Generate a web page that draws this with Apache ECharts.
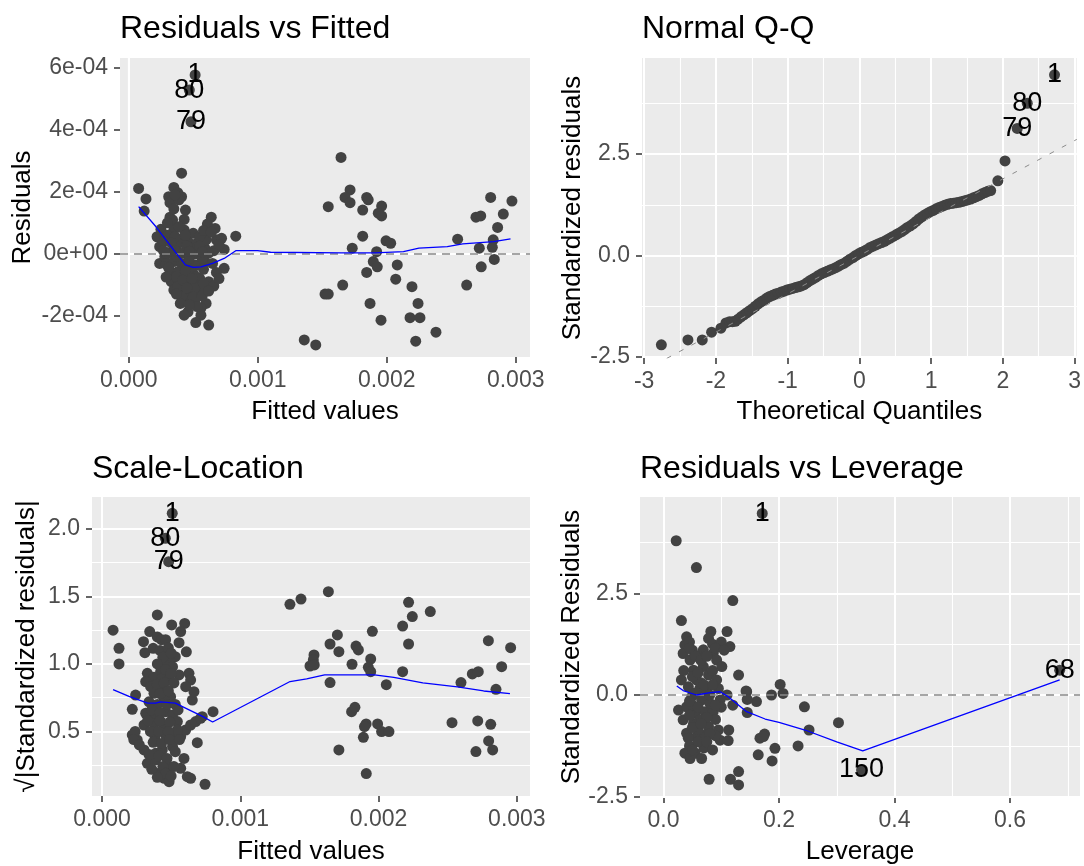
<!DOCTYPE html>
<html>
<head>
<meta charset="utf-8">
<title>Regression diagnostics</title>
<script src="https://cdn.jsdelivr.net/npm/echarts@6.0.0/dist/echarts.min.js"></script>
<style>
  html, body { margin: 0; padding: 0; background: #ffffff; }
  #diag-plots { width: 1084px; height: 866px; }
</style>
</head>
<body>
<div id="diag-plots"></div>
<script>
// ---------- Residuals vs Fitted ----------
const rvfPoints = [
  [0.41e-3, 2.60e-4], [0.077e-3, 2.11e-4], [0.134e-3, 1.77e-4], [0.12e-3, 1.38e-4], [0.35e-3, 2.14e-4],
  [0.38e-3, 1.97e-4], [0.41e-3, 1.84e-4], [0.31e-3, 1.84e-4], [0.32e-3, 1.65e-4], [0.39e-3, 1.74e-4],
  [0.44e-3, 1.41e-4], [0.32e-3, 1.18e-4], [0.34e-3, 1.09e-4], [0.43e-3, 1.11e-4], [0.64e-3, 1.18e-4],
  [0.61e-3, 0.96e-4], [0.67e-3, 0.82e-4], [0.25e-3, 0.79e-4], [0.22e-3, 0.55e-4], [0.50e-3, 0.66e-4],
  [0.83e-3, 0.57e-4], [0.68e-3, 0.45e-4], [0.72e-3, 0.50e-4], [0.42e-3, 0.50e-4], [0.46e-3, 0.39e-4],
  [0.53e-3, 0.34e-4], [0.24e-3, 0.23e-4], [0.37e-3, 0.23e-4], [0.59e-3, 0.18e-4], [0.74e-3, 0.14e-4],
  [0.66e-3, 0.10e-4], [0.32e-3, 0.04e-4], [0.42e-3, 0.02e-4], [0.52e-3, 0.00e-4], [0.62e-3, 0.02e-4],
  [0.24e-3, -0.31e-4], [0.29e-3, -0.33e-4], [0.35e-3, -0.25e-4], [0.41e-3, -0.31e-4], [0.46e-3, -0.42e-4],
  [0.52e-3, -0.36e-4], [0.59e-3, -0.25e-4], [0.65e-3, -0.31e-4], [0.74e-3, -0.47e-4], [0.33e-3, -0.63e-4],
  [0.38e-3, -0.58e-4], [0.43e-3, -0.74e-4], [0.50e-3, -0.63e-4], [0.55e-3, -0.79e-4], [0.33e-3, -0.90e-4],
  [0.39e-3, -0.95e-4], [0.46e-3, -1.00e-4], [0.53e-3, -0.95e-4], [0.62e-3, -0.90e-4], [0.66e-3, -1.04e-4],
  [0.35e-3, -1.17e-4], [0.42e-3, -1.22e-4], [0.48e-3, -1.28e-4], [0.55e-3, -1.17e-4], [0.44e-3, -1.44e-4],
  [0.48e-3, -1.54e-4], [0.52e-3, -1.44e-4], [0.60e-3, -1.60e-4], [0.56e-3, -1.76e-4], [0.46e-3, -1.87e-4],
  [0.43e-3, -1.98e-4], [0.56e-3, -1.98e-4], [0.52e-3, -2.22e-4], [0.62e-3, -2.30e-4], [0.37e-3, -0.09e-4],
  [0.47e-3, -0.15e-4], [0.57e-3, -0.15e-4], [0.28e-3, -0.09e-4], [0.38e-3, 0.34e-4], [0.48e-3, 0.18e-4],
  [0.60e-3, 0.45e-4], [0.52e-3, -0.74e-4], [0.37e-3, -0.74e-4], [0.41e-3, -1.38e-4], [0.38e-3, -1.06e-4],
  [0.51e-3, -1.11e-4], [0.29e-3, 0.01e-4], [0.43e-3, 0.77e-4], [0.35e-3, 0.77e-4], [0.39e-3, 0.87e-4],
  [0.30e-3, 0.60e-4], [0.36e-3, 0.55e-4], [0.44e-3, 0.60e-4], [0.55e-3, 0.55e-4], [0.58e-3, 0.75e-4],
  [0.27e-3, 0.40e-4], [0.33e-3, 0.35e-4], [0.45e-3, 0.25e-4], [0.55e-3, 0.25e-4], [0.27e-3, 0.10e-4],
  [0.36e-3, 0.10e-4], [0.47e-3, 0.08e-4], [0.57e-3, 0.06e-4], [0.70e-3, 0.30e-4], [0.31e-3, -0.45e-4],
  [0.44e-3, -0.55e-4], [0.58e-3, -0.50e-4], [0.68e-3, -0.60e-4], [0.29e-3, -0.75e-4], [0.42e-3, -0.85e-4],
  [0.49e-3, -0.80e-4], [0.58e-3, -0.95e-4], [0.70e-3, -0.80e-4], [0.37e-3, -1.30e-4], [0.45e-3, -1.10e-4],
  [0.50e-3, -1.40e-4], [0.57e-3, -1.35e-4], [0.62e-3, -1.20e-4], [0.40e-3, -1.60e-4], [0.53e-3, -1.70e-4],
  [0.47e-3, -1.65e-4], [0.35e-3, 1.45e-4], [0.36e-3, 1.90e-4], [0.30e-3, 1.00e-4], [0.64e-3, 0.70e-4],
  [1.646e-3, 3.11e-4], [1.716e-3, 2.06e-4], [1.677e-3, 1.82e-4], [1.716e-3, 1.65e-4], [1.547e-3, 1.52e-4],
  [1.845e-3, 1.82e-4], [1.857e-3, 1.74e-4], [1.814e-3, 1.41e-4], [1.961e-3, 1.54e-4], [1.935e-3, 1.31e-4],
  [1.961e-3, 1.22e-4], [1.814e-3, 0.57e-4], [1.995e-3, 0.42e-4], [2.031e-3, 0.34e-4], [1.733e-3, 0.18e-4],
  [1.922e-3, 0.07e-4], [1.896e-3, -0.25e-4], [1.927e-3, -0.42e-4], [1.845e-3, -0.60e-4], [2.082e-3, -0.36e-4],
  [2.070e-3, -0.82e-4], [1.659e-3, -1.01e-4], [1.522e-3, -1.30e-4], [1.547e-3, -1.30e-4], [2.196e-3, -1.06e-4],
  [1.871e-3, -1.60e-4], [2.243e-3, -1.60e-4], [1.956e-3, -2.14e-4], [2.181e-3, -2.06e-4], [2.258e-3, -2.06e-4],
  [2.382e-3, -2.53e-4], [2.225e-3, -2.82e-4], [1.361e-3, -2.78e-4], [1.450e-3, -2.94e-4], [2.806e-3, 1.82e-4],
  [2.971e-3, 1.70e-4], [2.692e-3, 1.18e-4], [2.729e-3, 1.22e-4], [2.904e-3, 1.28e-4], [2.860e-3, 0.85e-4],
  [2.550e-3, 0.47e-4], [2.826e-3, 0.45e-4], [2.718e-3, 0.18e-4], [2.819e-3, 0.21e-4], [2.834e-3, -0.18e-4],
  [2.733e-3, -0.42e-4], [2.620e-3, -1.01e-4]
];
const rvfSmoothX = [0.077e-3, 0.21e-3, 0.29e-3, 0.38e-3, 0.44e-3, 0.50e-3, 0.56e-3, 0.65e-3, 0.74e-3, 0.83e-3,
  1.00e-3, 1.10e-3, 1.65e-3, 1.91e-3, 2.13e-3, 2.25e-3, 2.47e-3, 2.59e-3, 2.83e-3, 2.96e-3];
const rvfSmoothY = [1.52e-4, 0.88e-4, 0.44e-4, -0.04e-4, -0.36e-4, -0.44e-4, -0.42e-4, -0.31e-4, -0.15e-4, 0.10e-4,
  0.10e-4, 0.05e-4, 0.03e-4, 0.03e-4, 0.07e-4, 0.18e-4, 0.23e-4, 0.32e-4, 0.39e-4, 0.48e-4];
const rvfLabelX = [0.515e-3, 0.47e-3, 0.483e-3];
const rvfLabelY = [5.77e-4, 5.28e-4, 4.26e-4];
const rvfLabelText = ['1', '80', '79'];
const rvfXTicks = [0, 1e-3, 2e-3, 3e-3];
const rvfXLabels = ['0.000', '0.001', '0.002', '0.003'];
const rvfXMinor = [0.5e-3, 1.5e-3, 2.5e-3];
const rvfYTicks = [-2e-4, 0, 2e-4, 4e-4, 6e-4];
const rvfYLabels = ['-2e-04', '0e+00', '2e-04', '4e-04', '6e-04'];
const rvfYMinor = [-3e-4, -1e-4, 1e-4, 3e-4, 5e-4];

// ---------- Normal Q-Q ----------
const qqTheoretical = [-2.76, -2.39, -2.19, -2.06, -1.93, -1.86, -1.81, -1.77, -1.73, -1.69, -1.65, -1.61, -1.57,
  -1.53, -1.49, -1.45, -1.41, -1.37, -1.33, -1.29, -1.25, -1.21, -1.17, -1.13, -1.09, -1.05, -1.01, -0.97, -0.93,
  -0.89, -0.85, -0.81, -0.77, -0.73, -0.69, -0.65, -0.61, -0.57, -0.53, -0.49, -0.45, -0.41, -0.37, -0.33, -0.29,
  -0.25, -0.21, -0.17, -0.13, -0.09, -0.05, -0.01, 0.03, 0.07, 0.11, 0.15, 0.19, 0.23, 0.27, 0.31, 0.35, 0.39,
  0.43, 0.47, 0.51, 0.55, 0.59, 0.63, 0.67, 0.71, 0.75, 0.79, 0.83, 0.87, 0.91, 0.95, 0.99, 1.03, 1.07, 1.11,
  1.15, 1.19, 1.23, 1.27, 1.31, 1.35, 1.39, 1.43, 1.47, 1.51, 1.55, 1.59, 1.63, 1.67, 1.71, 1.75, 1.79, 1.83,
  1.93, 2.03];
const qqStdResid = [-2.20, -2.08, -2.08, -1.89, -1.79, -1.66, -1.63, -1.63, -1.62, -1.57, -1.51, -1.46, -1.41,
  -1.36, -1.31, -1.25, -1.19, -1.14, -1.10, -1.05, -1.01, -0.98, -0.95, -0.93, -0.90, -0.88, -0.85, -0.83, -0.81,
  -0.79, -0.77, -0.75, -0.72, -0.67, -0.62, -0.58, -0.54, -0.49, -0.45, -0.42, -0.39, -0.36, -0.33, -0.30, -0.26,
  -0.22, -0.19, -0.14, -0.09, -0.05, 0.00, 0.04, 0.08, 0.11, 0.15, 0.20, 0.23, 0.26, 0.29, 0.32, 0.35, 0.39,
  0.43, 0.47, 0.51, 0.55, 0.59, 0.64, 0.69, 0.73, 0.78, 0.84, 0.90, 0.95, 1.00, 1.04, 1.08, 1.11, 1.15, 1.18,
  1.21, 1.24, 1.26, 1.28, 1.29, 1.30, 1.31, 1.33, 1.35, 1.37, 1.39, 1.42, 1.45, 1.48, 1.52, 1.55, 1.58, 1.60,
  1.84, 2.33];
const qqLineX = [-3.03, 3.03];
const qqLineY = [-2.86, 2.86];
const qqLabelX = [2.72, 2.34, 2.20];
const qqLabelY = [4.45, 3.75, 3.13];
const qqLabelText = ['1', '80', '79'];
const qqXTicks = [-3, -2, -1, 0, 1, 2, 3];
const qqXLabels = ['-3', '-2', '-1', '0', '1', '2', '3'];
const qqXMinor = [-2.5, -1.5, -0.5, 0.5, 1.5, 2.5];
const stdYTicks = [-2.5, 0, 2.5];
const stdYLabels = ['-2.5', '0.0', '2.5'];
const stdYMinor = [-1.25, 1.25, 3.75];

// ---------- Scale-Location ----------
const slPoints = [
  [0.40e-3, 1.363], [0.08e-3, 1.25], [0.123e-3, 1.116], [0.123e-3, 1.0], [0.504e-3, 1.289], [0.598e-3, 1.30],
  [0.569e-3, 1.24], [0.345e-3, 1.24], [0.40e-3, 1.20], [0.30e-3, 1.165], [0.43e-3, 1.18], [0.46e-3, 1.18],
  [0.557e-3, 1.158], [0.31e-3, 1.084], [0.37e-3, 1.116], [0.61e-3, 1.09], [0.47e-3, 1.067], [0.53e-3, 1.054],
  [0.485e-3, 1.03], [0.45e-3, 0.993], [0.51e-3, 0.98], [0.424e-3, 0.943], [0.472e-3, 0.931], [0.328e-3, 0.931],
  [0.557e-3, 0.919], [0.629e-3, 0.931], [0.376e-3, 0.901], [0.436e-3, 0.894], [0.641e-3, 0.881], [0.316e-3, 0.869],
  [0.485e-3, 0.881], [0.605e-3, 0.832], [0.352e-3, 0.832], [0.424e-3, 0.82], [0.665e-3, 0.795], [0.496e-3, 0.758],
  [0.376e-3, 0.783], [0.243e-3, 0.77], [0.653e-3, 0.733], [0.45e-3, 0.733], [0.219e-3, 0.664], [0.316e-3, 0.635],
  [0.376e-3, 0.622], [0.46e-3, 0.647], [0.51e-3, 0.622], [0.803e-3, 0.647], [0.725e-3, 0.61], [0.304e-3, 0.548],
  [0.376e-3, 0.56], [0.45e-3, 0.536], [0.545e-3, 0.573], [0.569e-3, 0.462], [0.605e-3, 0.511], [0.641e-3, 0.548],
  [0.677e-3, 0.573], [0.713e-3, 0.598], [0.219e-3, 0.474], [0.255e-3, 0.437], [0.304e-3, 0.363], [0.383e-3, 0.462],
  [0.46e-3, 0.474], [0.52e-3, 0.449], [0.545e-3, 0.511], [0.689e-3, 0.417], [0.388e-3, 0.338], [0.436e-3, 0.363],
  [0.51e-3, 0.388], [0.328e-3, 0.264], [0.388e-3, 0.289], [0.485e-3, 0.24], [0.593e-3, 0.30], [0.569e-3, 0.227],
  [0.412e-3, 0.19], [0.45e-3, 0.153], [0.485e-3, 0.128], [0.617e-3, 0.165], [0.641e-3, 0.153], [0.745e-3, 0.109],
  [0.42e-3, 1.10], [0.44e-3, 1.05], [0.48e-3, 1.12], [0.50e-3, 1.08], [0.40e-3, 1.00], [0.46e-3, 0.96],
  [0.50e-3, 0.93], [0.40e-3, 0.85], [0.45e-3, 0.86], [0.52e-3, 0.86], [0.42e-3, 0.78], [0.48e-3, 0.80],
  [0.34e-3, 0.72], [0.40e-3, 0.70], [0.47e-3, 0.70], [0.53e-3, 0.70], [0.36e-3, 0.66], [0.42e-3, 0.64],
  [0.55e-3, 0.66], [0.33e-3, 0.58], [0.42e-3, 0.58], [0.49e-3, 0.57], [0.35e-3, 0.50], [0.41e-3, 0.50],
  [0.48e-3, 0.50], [0.37e-3, 0.42], [0.43e-3, 0.41], [0.49e-3, 0.44], [0.56e-3, 0.44], [0.34e-3, 0.33],
  [0.41e-3, 0.32], [0.47e-3, 0.30], [0.53e-3, 0.35], [0.36e-3, 0.22], [0.44e-3, 0.24], [0.52e-3, 0.24],
  [0.46e-3, 0.19], [0.40e-3, 0.16], [0.50e-3, 0.17], [0.24e-3, 0.50], [0.23e-3, 0.44], [0.27e-3, 0.40],
  [1.359e-3, 1.442], [1.439e-3, 1.481], [1.637e-3, 1.536], [2.217e-3, 1.457], [2.244e-3, 1.351], [2.374e-3, 1.388],
  [2.174e-3, 1.281], [1.955e-3, 1.242], [1.702e-3, 1.215], [1.649e-3, 1.148], [1.713e-3, 1.091], [1.837e-3, 1.133],
  [1.854e-3, 1.104], [2.217e-3, 1.148], [2.794e-3, 1.173], [2.955e-3, 1.121], [1.533e-3, 1.067], [1.528e-3, 1.03],
  [1.504e-3, 0.985], [1.535e-3, 0.993], [1.808e-3, 0.998], [1.943e-3, 1.037], [1.926e-3, 0.975], [1.943e-3, 0.943],
  [2.174e-3, 0.943], [2.890e-3, 0.98], [2.678e-3, 0.926], [2.721e-3, 0.943], [2.596e-3, 0.862], [2.849e-3, 0.812],
  [1.649e-3, 0.862], [2.056e-3, 0.847], [1.805e-3, 0.647], [1.829e-3, 0.679], [1.910e-3, 0.556], [1.898e-3, 0.536],
  [1.993e-3, 0.556], [2.022e-3, 0.499], [2.075e-3, 0.499], [1.890e-3, 0.457], [1.713e-3, 0.363], [1.911e-3, 0.188],
  [2.531e-3, 0.565], [2.717e-3, 0.578], [2.811e-3, 0.553], [2.796e-3, 0.430], [2.704e-3, 0.351], [2.825e-3, 0.363]
];
const slSmoothX = [0.08e-3, 0.195e-3, 0.33e-3, 0.39e-3, 0.42e-3, 0.53e-3, 0.63e-3, 0.73e-3, 0.80e-3, 1.36e-3,
  1.48e-3, 1.61e-3, 1.97e-3, 2.11e-3, 2.32e-3, 2.57e-3, 2.76e-3, 2.95e-3];
const slSmoothY = [0.81, 0.76, 0.71, 0.71, 0.72, 0.71, 0.66, 0.61, 0.57, 0.87, 0.89, 0.92, 0.92, 0.90, 0.86,
  0.83, 0.80, 0.78];
const slLabelX = [0.508e-3, 0.458e-3, 0.482e-3];
const slLabelY = [2.116, 1.931, 1.758];
const slLabelText = ['1', '80', '79'];
const slYTicks = [0.5, 1.0, 1.5, 2.0];
const slYLabels = ['0.5', '1.0', '1.5', '2.0'];
const slYMinor = [0.25, 0.75, 1.25, 1.75];

// ---------- Residuals vs Leverage ----------
const rvlPoints = [
  [0.022, 3.79], [0.057, 3.13], [0.12, 2.32], [0.031, 1.83], [0.082, 1.56], [0.11, 1.56], [0.04, 1.43],
  [0.115, 1.19], [0.037, 1.23], [0.034, 1.02], [0.046, 0.86], [0.078, 1.39], [0.069, 1.11], [0.086, 1.02],
  [0.092, 0.86], [0.101, 0.70], [0.13, 0.49], [0.052, 0.61], [0.069, 0.70], [0.078, 0.49], [0.031, 0.37],
  [0.057, 0.37], [0.092, 0.37], [0.043, 0.20], [0.063, 0.16], [0.075, 0.08], [0.095, 0.16], [0.098, -0.12],
  [0.049, -0.04], [0.066, -0.12], [0.026, -0.37], [0.04, -0.29], [0.055, -0.45], [0.072, -0.41], [0.086, -0.41],
  [0.034, -0.61], [0.052, -0.70], [0.063, -0.61], [0.078, -0.78], [0.095, -0.86], [0.113, -0.86], [0.04, -0.94],
  [0.057, -1.02], [0.072, -0.98], [0.043, -1.06], [0.098, -1.11], [0.037, -1.43], [0.046, -1.56], [0.055, -1.43],
  [0.066, -1.56], [0.079, -2.07], [0.116, -2.07], [0.13, -1.88], [0.13, -2.21], [0.144, 0.08], [0.187, 0.0],
  [0.161, -0.16], [0.112, -1.12], [0.143, 0.10], [0.145, -0.11], [0.145, -0.43], [0.202, 0.26], [0.207, 0.04],
  [0.244, -0.29], [0.252, -0.86], [0.303, -0.68], [0.175, -0.96], [0.167, -1.06], [0.173, -1.02], [0.164, -1.47],
  [0.193, -1.31], [0.188, -1.62], [0.233, -1.25], [0.045, 1.30], [0.05, 1.10], [0.06, 0.95], [0.085, 1.25],
  [0.10, 1.30], [0.065, 0.30], [0.085, 0.60], [0.05, -0.25], [0.08, -0.20], [0.06, -0.85], [0.09, -0.60],
  [0.10, -0.30], [0.045, -1.25], [0.07, -1.30], [0.09, -1.00], [0.035, 0.60], [0.11, 0.00], [0.12, -0.25],
  [0.045, 1.15], [0.055, 0.95], [0.065, 0.85], [0.075, 0.95], [0.09, 1.15], [0.105, 1.10], [0.05, 0.45],
  [0.06, 0.55], [0.07, 0.25], [0.085, 0.25], [0.055, 0.05], [0.08, 0.00], [0.045, -0.15], [0.06, -0.30],
  [0.075, -0.55], [0.09, -0.25], [0.045, -0.50], [0.05, -0.80], [0.065, -0.70], [0.08, -0.95], [0.06, -1.15],
  [0.075, -1.15], [0.05, -1.35], [0.085, -1.35]
];
const rvlSmoothX = [0.023, 0.034, 0.057, 0.081, 0.098, 0.112, 0.144, 0.176, 0.20, 0.245, 0.30, 0.345, 0.686];
const rvlSmoothY = [0.22, 0.11, 0.00, 0.06, 0.08, -0.04, -0.41, -0.59, -0.67, -0.86, -1.15, -1.37, 0.37];
const rvlLabelX = [0.171, 0.343, 0.686];
const rvlLabelY = [4.46, -1.84, 0.61];
const rvlLabelText = ['1', '150', '68'];
const rvlXTicks = [0, 0.2, 0.4, 0.6];
const rvlXLabels = ['0.0', '0.2', '0.4', '0.6'];
const rvlXMinor = [0.1, 0.3, 0.5, 0.7];

// ---------- helpers ----------
const FONT = '"Liberation Sans", Arial, sans-serif';
const PANEL_BG = '#EBEBEB';
const POINT_COLOR = '#424242';

function zipXY(xs, ys) {
  return xs.map((x, i) => [x, ys[i]]);
}

function labelData(xs, ys, names) {
  return xs.map((x, i) => ({ value: [x, ys[i]], name: names[i] }));
}

function tickText(ticks, labels) {
  return function (v) {
    const i = ticks.findIndex(t => Math.abs(t - v) < 1e-12);
    return i < 0 ? '' : labels[i];
  };
}

function gridLines(majX, minX, majY, minY) {
  const data = [];
  minX.forEach(v => data.push({ xAxis: v, lineStyle: { width: 1.1 } }));
  minY.forEach(v => data.push({ yAxis: v, lineStyle: { width: 1.1 } }));
  majX.forEach(v => data.push({ xAxis: v, lineStyle: { width: 2 } }));
  majY.forEach(v => data.push({ yAxis: v, lineStyle: { width: 2 } }));
  return {
    silent: true, symbol: ['none', 'none'], z: 1, animation: false,
    label: { show: false },
    emphasis: { disabled: true },
    lineStyle: { color: '#FFFFFF', type: 'solid', opacity: 1 },
    data: data
  };
}

function zeroLine() {
  return {
    silent: true, symbol: ['none', 'none'], z: 4, animation: false,
    label: { show: false },
    emphasis: { disabled: true },
    lineStyle: { color: '#888888', type: [8, 6], width: 1.5, opacity: 1 },
    data: [{ yAxis: 0 }]
  };
}

function xAxisFor(gi, min, max, ticks, labels, name, gap) {
  return {
    type: 'value', gridIndex: gi, min: min, max: max,
    axisLine: { show: false, onZero: false },
    splitLine: { show: false },
    axisTick: { show: true, customValues: ticks, length: 6, lineStyle: { color: '#333333', width: 1.5 } },
    axisLabel: {
      customValues: ticks, formatter: tickText(ticks, labels), margin: 12,
      color: '#4D4D4D', fontSize: 23, lineHeight: 23, fontFamily: FONT
    },
    name: name, nameLocation: 'middle', nameGap: gap,
    nameTextStyle: { color: '#000000', fontSize: 26, lineHeight: 26, fontFamily: FONT }
  };
}

function yAxisFor(gi, min, max, ticks, labels, name, gap) {
  return {
    type: 'value', gridIndex: gi, min: min, max: max,
    axisLine: { show: false, onZero: false },
    splitLine: { show: false },
    axisTick: { show: true, customValues: ticks, length: 6, lineStyle: { color: '#333333', width: 1.5 } },
    axisLabel: {
      customValues: ticks, formatter: tickText(ticks, labels), margin: 12,
      color: '#4D4D4D', fontSize: 23, lineHeight: 23, fontFamily: FONT
    },
    name: name, nameLocation: 'middle', nameGap: gap,
    nameTextStyle: { color: '#000000', fontSize: 26, lineHeight: 26, fontFamily: FONT }
  };
}

function pointSeries(gi, data, marks) {
  return {
    type: 'scatter', xAxisIndex: gi, yAxisIndex: gi, data: data,
    symbol: 'circle', symbolSize: 11, z: 3,
    itemStyle: { color: POINT_COLOR, opacity: 1 },
    emphasis: { disabled: true },
    markLine: marks
  };
}

function labelSeries(gi, data) {
  return {
    type: 'scatter', xAxisIndex: gi, yAxisIndex: gi, data: data,
    symbol: 'circle', symbolSize: 11, z: 6,
    itemStyle: { color: POINT_COLOR, opacity: 1 },
    emphasis: { disabled: true },
    label: {
      show: true, position: 'inside', formatter: '{b}',
      color: '#000000', fontSize: 27, fontFamily: FONT
    }
  };
}

function smoothSeries(gi, data, marks) {
  const s = {
    type: 'line', xAxisIndex: gi, yAxisIndex: gi, data: data,
    showSymbol: false, symbol: 'none', z: 5,
    lineStyle: { color: '#0000FF', width: 1.3 },
    emphasis: { disabled: true }
  };
  if (marks) s.markLine = marks;
  return s;
}

function panelTitle(text, left, top) {
  return {
    text: text, left: left, top: top, padding: 0,
    textStyle: { color: '#000000', fontSize: 32, lineHeight: 32, fontWeight: 'normal', fontFamily: FONT }
  };
}

const chart = echarts.init(document.getElementById('diag-plots'), null, { renderer: 'canvas' });

chart.setOption({
  backgroundColor: '#FFFFFF',
  animation: false,
  title: [
    panelTitle('Residuals vs Fitted', 120, 13),
    panelTitle('Normal Q-Q', 642, 13),
    panelTitle('Scale-Location', 92, 453),
    panelTitle('Residuals vs Leverage', 640, 453)
  ],
  grid: [
    { left: 120, top: 58, width: 410, height: 299, show: true, backgroundColor: PANEL_BG, borderWidth: 0 },
    { left: 642, top: 58, width: 438, height: 300, show: true, backgroundColor: PANEL_BG, borderWidth: 0 },
    { left: 92, top: 497, width: 438, height: 299, show: true, backgroundColor: PANEL_BG, borderWidth: 0 },
    { left: 640, top: 497, width: 440, height: 300, show: true, backgroundColor: PANEL_BG, borderWidth: 0 }
  ],
  xAxis: [
    xAxisFor(0, -0.0674e-3, 3.111e-3, rvfXTicks, rvfXLabels, 'Fitted values', 42),
    xAxisFor(1, -3.03, 3.03, qqXTicks, qqXLabels, 'Theoretical Quantiles', 41),
    xAxisFor(2, -0.0723e-3, 3.095e-3, rvfXTicks, rvfXLabels, 'Fitted values', 43),
    xAxisFor(3, -0.0407, 0.7212, rvlXTicks, rvlXLabels, 'Leverage', 42)
  ],
  yAxis: [
    yAxisFor(0, -3.329e-4, 6.316e-4, rvfYTicks, rvfYLabels, 'Residuals', 84),
    yAxisFor(1, -2.525, 4.865, stdYTicks, stdYLabels, 'Standardized residuals', 56),
    yAxisFor(2, 0.022, 2.237, slYTicks, slYLabels, '√|Standardized residuals|', 52),
    yAxisFor(3, -2.506, 4.865, stdYTicks, stdYLabels, 'Standardized Residuals', 54)
  ],
  series: [
    // Residuals vs Fitted
    pointSeries(0, rvfPoints, gridLines(rvfXTicks, rvfXMinor, rvfYTicks, rvfYMinor)),
    smoothSeries(0, zipXY(rvfSmoothX, rvfSmoothY), zeroLine()),
    labelSeries(0, labelData(rvfLabelX, rvfLabelY, rvfLabelText)),
    // Normal Q-Q
    pointSeries(1, zipXY(qqTheoretical, qqStdResid), gridLines(qqXTicks, qqXMinor, stdYTicks, stdYMinor)),
    {
      type: 'line', xAxisIndex: 1, yAxisIndex: 1, data: zipXY(qqLineX, qqLineY),
      showSymbol: false, symbol: 'none', z: 4, clip: true,
      lineStyle: { color: '#8C8C8C', width: 1, type: [5, 9] },
      emphasis: { disabled: true }
    },
    labelSeries(1, labelData(qqLabelX, qqLabelY, qqLabelText)),
    // Scale-Location
    pointSeries(2, slPoints, gridLines(rvfXTicks, rvfXMinor, slYTicks, slYMinor)),
    smoothSeries(2, zipXY(slSmoothX, slSmoothY), null),
    labelSeries(2, labelData(slLabelX, slLabelY, slLabelText)),
    // Residuals vs Leverage
    pointSeries(3, rvlPoints, gridLines(rvlXTicks, rvlXMinor, stdYTicks, stdYMinor)),
    smoothSeries(3, zipXY(rvlSmoothX, rvlSmoothY), zeroLine()),
    labelSeries(3, labelData(rvlLabelX, rvlLabelY, rvlLabelText))
  ]
});
</script>
</body>
</html>
